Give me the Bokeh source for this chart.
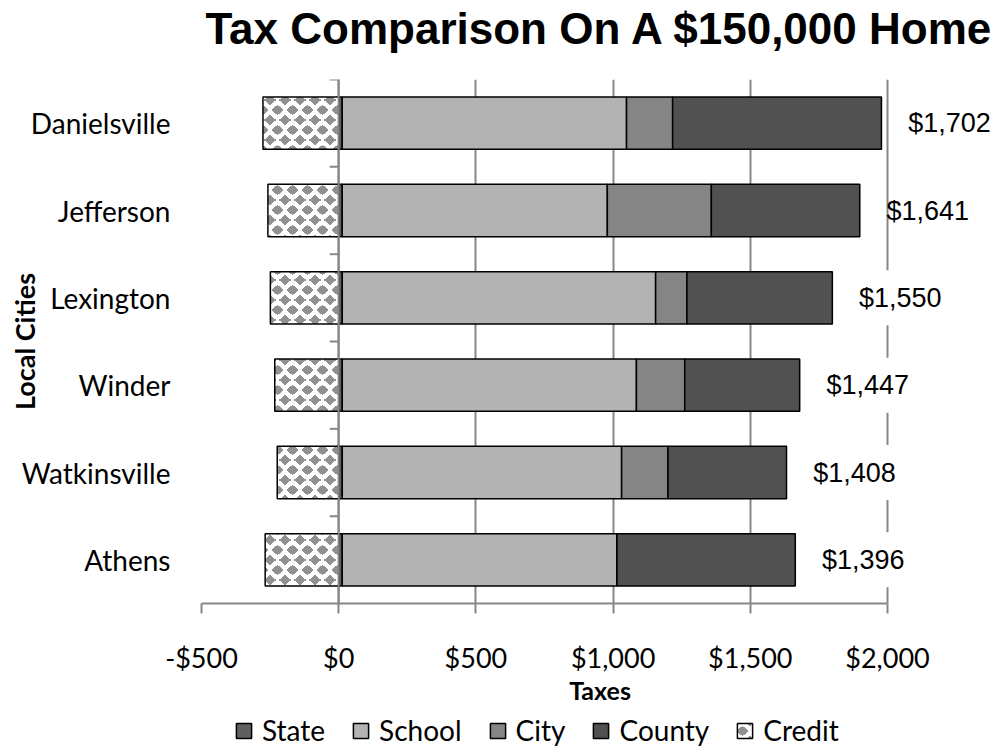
import base64
import struct
import zlib
from bokeh.plotting import figure
from bokeh.layouts import column
from bokeh.models import (FixedTicker, NumeralTickFormatter, Span, Legend, LegendItem,
                          ImageURLTexture, ColumnDataSource, Title)
from bokeh.core.properties import value
from bokeh.embed import file_html
from bokeh.resources import INLINE

# ---------------- data ----------------
cities = ["Danielsville", "Jefferson", "Lexington", "Winder", "Watkinsville", "Athens"]
state  = [13, 13, 13, 13, 13, 13]
school = [1036, 966, 1142, 1072, 1018, 1001]
city   = [168, 379, 114, 176, 169, 0]
county = [761, 541, 530, 419, 432, 650]
credit = [-276, -258, -249, -233, -224, -268]
series_names = ["State", "School", "City", "County"]
x_ticks = [-500, 0, 500, 1000, 1500, 2000]

# ---------------- derived ----------------
pos_end = [a + b + c + d for a, b, c, d in zip(state, school, city, county)]
totals = [e + cr for e, cr in zip(pos_end, credit)]
total_text = ["${:,}".format(t) for t in totals]

W = 1000
H_MAIN, H_LEG = 708, 41
LEFT, RIGHT, TOP, BOTTOM = 201, 2, 79, 105
PX_PER_UNIT = 686 / 2500.0
frame_w = W - LEFT - RIGHT
x_end = -500 + frame_w / PX_PER_UNIT
label_x = [e + 68 / PX_PER_UNIT for e in pos_end]

GRAY = "#878787"
fills = ["#5f5f5f", "#b3b3b3", "#858585", "#515151"]


# ---------------- diamond texture for the Credit series ----------------
def diamond_png(size=60, cw=15, rh=10, hw=6.2, hh=5.3, rgb=(145, 145, 145)):
    rows = []
    for y in range(size):
        row = bytearray()
        for x in range(size):
            px, py = x + 0.5, y + 0.5
            hit = False
            for r in range(-1, size // rh + 2):
                off = (r % 2) * cw / 2.0
                for c in range(-1, size // cw + 2):
                    cx, cy = c * cw + off, r * rh
                    if abs(px - cx) / hw + abs(py - cy) / hh <= 1.0:
                        hit = True
                        break
                if hit:
                    break
            row += bytes(rgb) if hit else b"\xff\xff\xff"
        rows.append(bytes(row))
    raw = b"".join(b"\x00" + r for r in rows)

    def chunk(t, d):
        return struct.pack(">I", len(d)) + t + d + struct.pack(">I", zlib.crc32(t + d) & 0xffffffff)

    png = (b"\x89PNG\r\n\x1a\n"
           + chunk(b"IHDR", struct.pack(">IIBBBBB", size, size, 8, 2, 0, 0, 0))
           + chunk(b"IDAT", zlib.compress(raw))
           + chunk(b"IEND", b""))
    return "data:image/png;base64," + base64.b64encode(png).decode("ascii")


texture = ImageURLTexture(url=diamond_png(), repetition="repeat")
credit_style = dict(fill_color="white", line_color="black", line_width=1.5,
                    hatch_pattern=value("diamonds"), hatch_extra={"diamonds": texture},
                    hatch_color="#919191", hatch_alpha=1.0)

src = ColumnDataSource(dict(city=cities, State=state, School=school, City=city,
                            County=county, credit=credit, zero=[0] * len(cities),
                            lx=label_x, ltxt=total_text))

p = figure(width=W, height=H_MAIN, y_range=list(reversed(cities)), x_range=(-500, x_end),
           output_backend="svg", toolbar_location=None,
           min_border_left=LEFT, min_border_right=RIGHT,
           min_border_top=TOP, min_border_bottom=BOTTOM)
p.outline_line_color = None
p.background_fill_color = "white"

rs = p.hbar_stack(series_names, y="city", height=0.6, source=src,
                  fill_color=fills, line_color="black", line_width=1.5)
rc = p.hbar(y="city", left="credit", right="zero", height=0.6, source=src, **credit_style)

# vertical axis line at $0 with category boundary ticks
p.add_layout(Span(location=0, dimension="height", line_color=GRAY, line_width=2))
p.segment(x0=[-9 / PX_PER_UNIT] * len(cities), x1=[0] * len(cities),
          y0=[(c, 0.5) for c in cities], y1=[(c, 0.5) for c in cities],
          line_color=GRAY, line_width=2)

# total labels with white boxes
p.rect(x="lx", y="city", width=76, width_units="screen", height=0.63, source=src,
       fill_color="white", line_color=None)
p.text(x="lx", y="city", text="ltxt", source=src, text_align="center",
       text_baseline="middle", text_font=value("Liberation Sans"),
       text_font_size="27px", text_color="black")

# axes
xa = p.xaxis[0]
xa.ticker = FixedTicker(ticks=x_ticks)
xa.formatter = NumeralTickFormatter(format="$0,0")
xa.bounds = (-500, 2000)
xa.axis_line_color = GRAY
xa.axis_line_width = 2
xa.major_tick_line_color = GRAY
xa.major_tick_line_width = 2
xa.major_tick_out = 10
xa.major_tick_in = 0
xa.minor_tick_line_color = None
xa.major_label_text_font = "Lato"
xa.major_label_text_font_size = "27px"
xa.major_label_text_color = "black"
xa.major_label_standoff = 27
xa.axis_label = "Taxes"
xa.axis_label_text_font = "Lato"
xa.axis_label_text_font_style = "bold"
xa.axis_label_text_font_size = "25px"
xa.axis_label_text_color = "black"
xa.axis_label_standoff = -2

ya = p.yaxis[0]
ya.axis_line_color = None
ya.major_tick_line_color = None
ya.minor_tick_line_color = None
ya.major_tick_out = 0
ya.major_tick_in = 0
ya.major_label_standoff = 31
ya.major_label_text_font = "Lato"
ya.major_label_text_font_size = "28px"
ya.major_label_text_color = "black"
ya.axis_label = "Local Cities"
ya.axis_label_text_font = "Lato"
ya.axis_label_text_font_style = "bold"
ya.axis_label_text_font_size = "27px"
ya.axis_label_text_color = "black"
ya.axis_label_standoff = -22

p.xgrid.grid_line_color = GRAY
p.xgrid.grid_line_width = 2
p.ygrid.grid_line_color = None

# spacer between title and frame, then the title (outermost)
p.add_layout(Title(text=" ", text_font_size="10px", standoff=12), "above")
p.title.text = "Tax Comparison On A $150,000 Home"
p.title.text_font = "Liberation Sans"
p.title.text_font_style = "bold"
p.title.text_font_size = "44px"
p.title.text_color = "black"
p.title.align = "center"
p.title.vertical_align = "top"
p.title.standoff = 0

# ---------------- legend strip ----------------
lg = figure(width=W, height=H_LEG, x_range=(0, 1), y_range=(10, 11),
            x_axis_location=None, y_axis_location=None,
            output_backend="svg", toolbar_location=None, min_border=0)
lg.outline_line_color = None
lg.grid.visible = False
leg_renderers = [lg.hbar(y="zero", left="zero", right="zero", height=0.6, source=src,
                         fill_color=f, line_color="black", line_width=1.5) for f in fills]
leg_renderers.append(lg.hbar(y="zero", left="zero", right="zero", height=0.6, source=src,
                             **credit_style))
legend = Legend(items=[LegendItem(label=n, renderers=[r])
                       for n, r in zip(series_names + ["Credit"], leg_renderers)],
                orientation="horizontal", location=(33, 2))
legend.border_line_color = None
legend.background_fill_alpha = 0
legend.label_text_font = "Lato"
legend.label_text_font_size = "28px"
legend.label_text_color = "black"
legend.glyph_width = 19
legend.glyph_height = 19
legend.spacing = 26
legend.label_standoff = 9
legend.padding = 0
legend.margin = 0
lg.add_layout(legend, "center")

layout = column(p, lg, spacing=0)
open("out.html", "w").write(file_html(layout, INLINE))
